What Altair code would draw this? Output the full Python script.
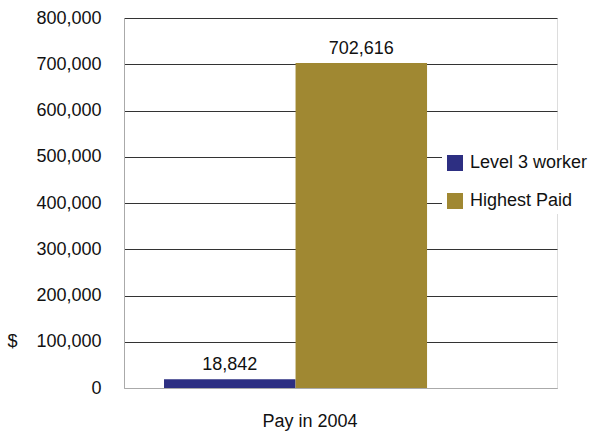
import altair as alt
import pandas as pd

categories = ["Pay in 2004"]
series = ["Level 3 worker", "Highest Paid"]
values = [18842, 702616]
colors = ["#2d2f82", "#a08832"]
y_ticks = [0, 100000, 200000, 300000, 400000, 500000, 600000, 700000, 800000]

df = pd.DataFrame({
    "cat": [categories[0]] * len(series),
    "series": series,
    "value": values,
})

FONT = "Liberation Sans"
FS = 18

x_enc = alt.X(
    "cat:N",
    scale=alt.Scale(paddingInner=0, paddingOuter=0.323, align=0.2354),
    axis=alt.Axis(
        labels=False, ticks=False, domainColor="#aaaaaa", domainWidth=1,
        title="Pay in 2004", titleX=185.5, titleY=38, titleAlign="center",
        titleBaseline="alphabetic", titleFontSize=FS, titleFontWeight="normal",
        titleColor="#111111", titleFont=FONT,
    ),
)
xo_enc = alt.XOffset("series:N", sort=series)
y_enc = alt.Y(
    "value:Q",
    scale=alt.Scale(domain=[0, 800000], nice=False),
    axis=alt.Axis(
        values=y_ticks, format=",.0f", ticks=False, labelPadding=23,
        labelFontSize=FS, labelColor="#111111", labelFont=FONT,
        domainColor="#aaaaaa", domainWidth=1,
        grid=True,
        gridColor={"condition": {"test": "datum.value === 0", "value": "#aaaaaa"}, "value": "#333333"},
        gridWidth=1,
        title="$", titleAngle=0, titleX=-117, titleY=323.75, titleAlign="left",
        titleBaseline="middle", titleFontSize=FS, titleFontWeight="normal",
        titleColor="#111111", titleFont=FONT,
    ),
)

bars = alt.Chart(df).mark_bar(size=131.5).encode(
    x=x_enc,
    xOffset=xo_enc,
    y=y_enc,
    color=alt.Color(
        "series:N",
        sort=series,
        scale=alt.Scale(domain=series, range=colors),
        legend=alt.Legend(
            title=None, orient="none", legendX=318, legendY=132,
            fillColor="white", padding=4, symbolType="square", symbolSize=256,
            symbolStrokeWidth=0, labelFontSize=FS, labelFont=FONT,
            labelColor="#111111", labelOffset=6, rowPadding=20,
        ),
    ),
)

labels = alt.Chart(df).mark_text(
    dy=-9, baseline="alphabetic", fontSize=FS, font=FONT, color="#111111"
).encode(
    x=x_enc,
    xOffset=xo_enc,
    y=alt.Y("value:Q"),
    text=alt.Text("value:Q", format=",.0f"),
)

chart = alt.layer(bars, labels).properties(
    width=433,
    height=370,
    autosize=alt.AutoSizeParams(type="none"),
    padding={"left": 124, "top": 18, "right": 33, "bottom": 44},
).configure_view(stroke=None).configure(background="white")

chart.save("out.html", embed_options={"renderer": "svg", "actions": False})
